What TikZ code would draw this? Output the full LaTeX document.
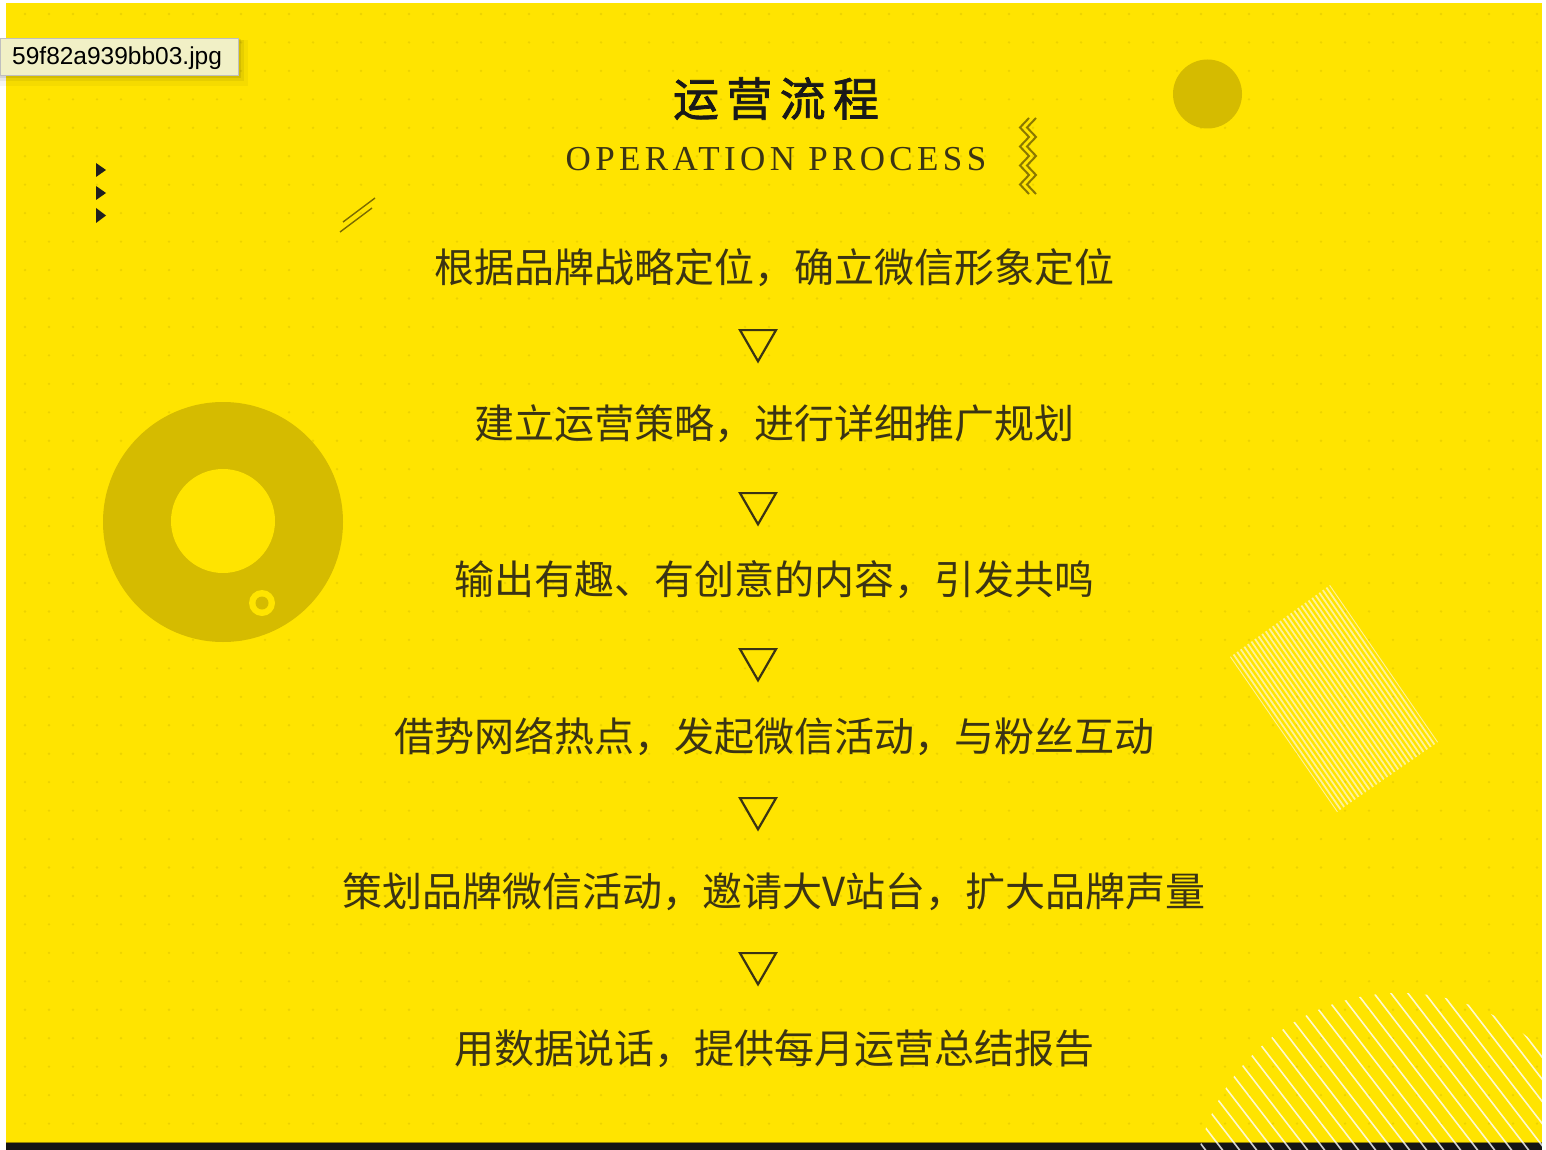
\documentclass[tikz,border=0pt]{standalone}
\usepackage{fontspec}
\usetikzlibrary{shapes.geometric}
\setmainfont{Liberation Serif}
\newfontfamily\cjk{Noto Sans CJK SC}
\newfontfamily\cjktitle{Noto Sans CJK SC}[FakeBold=1.6, LetterSpace=16]
\newfontfamily\opfont{Liberation Serif}[LetterSpace=12.5]
\newfontfamily\tipfont{Liberation Sans}
\definecolor{bgyellow}{HTML}{FFE400}
\definecolor{dotcol}{HTML}{EDD300}
\definecolor{ringcol}{HTML}{D5BB00}
\definecolor{txtcol}{HTML}{3B3414}
\definecolor{zigcol}{HTML}{8A7800}
\definecolor{stripecol}{HTML}{FFF39A}
\definecolor{tipfill}{HTML}{F1F0C6}
\begin{document}
\begin{tikzpicture}[x=1pt,y=-1pt,
  stepline/.style={font=\cjk\fontsize{40}{48}\selectfont, text=txtcol, anchor=base, inner sep=0pt},
  flowtri/.style={regular polygon, regular polygon sides=3, shape border rotate=180,
                  draw=txtcol, line width=2.2pt, minimum size=41.6pt, inner sep=0pt},
  zig/.style={draw=zigcol, line width=2pt, line join=miter},
  slashline/.style={draw=zigcol!90!black, line width=1.4pt},
  whitestripe/.style={draw=white, opacity=0.8, line width=1.6pt},
  rectstripe/.style={draw=stripecol, line width=1.8pt}]
\useasboundingbox (0,0) rectangle (1546,1150);
% page
\fill[white] (0,0) rectangle (1546,1150);
\fill[bgyellow] (6,3) rectangle (1542,1143);
\fill[black!92] (6,1143) rectangle (1542,1150);
\draw[ringcol!70!black, line width=1pt] (6,1142.5) -- (1542,1142.5);
% dotted grid
\foreach \i in {1,...,64}{\foreach \j in {0,...,39}{\fill[dotcol] ({24*\i+1},{14+28.45*\j}) circle (1.3pt);}}
% ring on the left
\fill[ringcol] (223,522) circle (120pt);
\fill[bgyellow] (223,521) circle (52pt);
\fill[bgyellow] (262,603) circle (13pt);
\fill[ringcol] (262,603) circle (6.5pt);
% circle top right
\fill[ringcol] (1207.5,94) circle (34.5pt);
% striped rectangle
\begin{scope}
\clip (1330,585) -- (1438,742) -- (1337,812) -- (1230,657) -- cycle;
\foreach \t in {0,...,28}{\draw[rectstripe] ({1330-100*\t/28},{585+72*\t/28}) -- ({1438-101*\t/28},{742+70*\t/28});}
\end{scope}
% diagonal lines bottom right
\begin{scope}
\clip (6,0) rectangle (1542,1150);
\clip (1400,1200) circle (207pt);
\foreach \k in {0,...,32}{\draw[whitestripe] ({1010+17*\k},940) -- ++(200,260);}
\end{scope}
% small black triangles
\fill[black!88] (96,163) -- (106,170) -- (96,177) -- cycle;
\fill[black!88] (96,186) -- (106,193) -- (96,200) -- cycle;
\fill[black!88] (96,208) -- (106,215.5) -- (96,223) -- cycle;
% double slash
\draw[slashline] (343,222) -- (375,198);
\draw[slashline] (340,232) -- (372,208);
% zigzag
\draw[zig] (1029,118) -- (1020,127.5) -- (1029,137) -- (1020,146.5) -- (1029,156) -- (1020,165.5) -- (1029,175) -- (1020,184.5) -- (1029,194);
\draw[zig] (1036,118) -- (1027,127.5) -- (1036,137) -- (1027,146.5) -- (1036,156) -- (1027,165.5) -- (1036,175) -- (1027,184.5) -- (1036,194);
% title
\node[anchor=base, inner sep=0pt, font=\cjktitle\fontsize{46}{50}\selectfont, text=black!90] (title) at (776,116) {运营流程};
\node[anchor=base, inner sep=0pt, font=\opfont\fontsize{35}{38}\selectfont, text=txtcol] (subtitle) at (776,171) {OPERATION PROCESS};
% flow
\node[stepline] (s1) at (774,282) {根据品牌战略定位，确立微信形象定位};
\node[flowtri] (t1) at (758,340.5) {};
\node[stepline] (s2) at (774,438) {建立运营策略，进行详细推广规划};
\node[flowtri] (t2) at (758,503.5) {};
\node[stepline] (s3) at (774,594) {输出有趣、有创意的内容，引发共鸣};
\node[flowtri] (t3) at (758,659.5) {};
\node[stepline] (s4) at (774,751) {借势网络热点，发起微信活动，与粉丝互动};
\node[flowtri] (t4) at (758,808.5) {};
\node[stepline] (s5) at (774,906) {策划品牌微信活动，邀请大V站台，扩大品牌声量};
\node[flowtri] (t5) at (758,963.5) {};
\node[stepline] (s6) at (774,1063) {用数据说话，提供每月运营总结报告};
% tooltip
\fill[black, opacity=0.04] (0,40) rectangle (248,86);
\fill[black, opacity=0.06] (0,40) rectangle (244,81);
\fill[black, opacity=0.08] (0,39) rectangle (241,78);
\filldraw[fill=tipfill, draw=black!25, line width=0.6pt] (0,38) rectangle (238,75);
\node[anchor=base west, inner sep=0pt, font=\tipfont\fontsize{24.5}{27}\selectfont, text=black] (tip) at (12,65) {59f82a939bb03.jpg};
\end{tikzpicture}
\end{document}
